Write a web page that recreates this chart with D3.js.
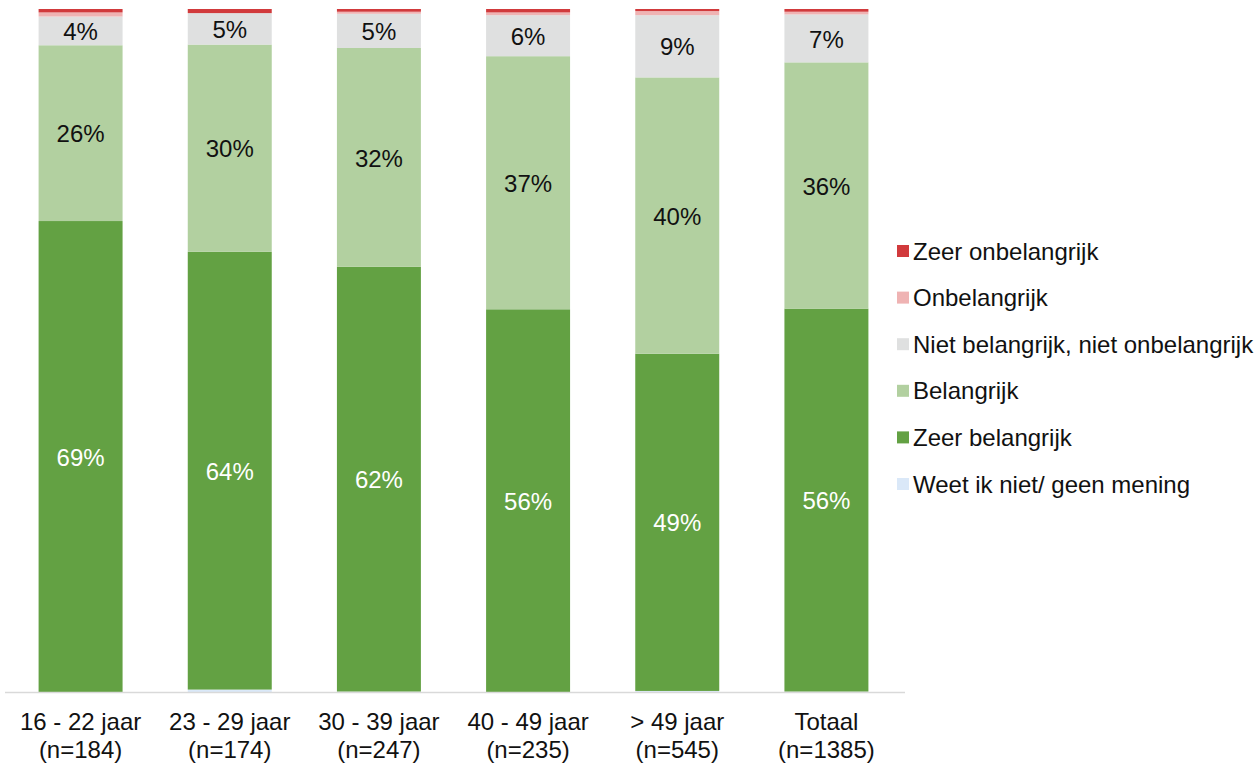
<!DOCTYPE html>
<html lang="nl">
<head>
<meta charset="UTF-8">
<title>Belang per leeftijdsgroep</title>
<script src="https://d3js.org/d3.v7.min.js"></script>
<style>
  * { margin: 0; padding: 0; box-sizing: border-box; }
  body { background: #ffffff; font-family: "Liberation Sans", Arial, sans-serif; }
  svg text { font-family: "Liberation Sans", Arial, sans-serif; }
</style>
</head>
<body>
<div id="chart"></div>
<script>
// categories (two-line labels)
const groups = ["16 - 22 jaar", "23 - 29 jaar", "30 - 39 jaar", "40 - 49 jaar", "> 49 jaar", "Totaal"];
const groupN = ["(n=184)", "(n=174)", "(n=247)", "(n=235)", "(n=545)", "(n=1385)"];

// series, bottom to top (percent)
const weetNiet       = [0.0, 0.5, 0.2, 0.0, 0.3, 0.2];
const zeerBelangrijk = [69.0, 64.0, 62.1, 56.1, 49.3, 56.0];
const belangrijk     = [25.7, 30.3, 32.0, 37.0, 40.4, 36.0];
const neutraal       = [4.2, 4.6, 5.0, 6.0, 9.1, 7.0];
const onbelangrijk   = [0.6, 0.0, 0.3, 0.4, 0.6, 0.4];
const zeerOnbel      = [0.5, 0.6, 0.4, 0.5, 0.3, 0.4];

const seriesNames = ["Weet ik niet/ geen mening", "Zeer belangrijk", "Belangrijk",
  "Niet belangrijk, niet onbelangrijk", "Onbelangrijk", "Zeer onbelangrijk"];
const seriesValues = [weetNiet, zeerBelangrijk, belangrijk, neutraal, onbelangrijk, zeerOnbel];
const seriesColors = ["#dae8f8", "#63a143", "#b2d0a0", "#dfe0e0", "#efb3b3", "#d13a3c"];
const labelled = { "Zeer belangrijk": "#ffffff", "Belangrijk": "#111111", "Niet belangrijk, niet onbelangrijk": "#111111" };

const W = 1256, H = 763;
const FS = 24;
const svg = d3.select("#chart").append("svg").attr("width", W).attr("height", H);

const x = d3.scaleBand().domain(groups).range([6, 901]).paddingInner(0.437).paddingOuter(0.2185);
const y = d3.scaleLinear().domain([0, 100]).range([693, 9]);

const rows = groups.map((g, i) => {
  const r = { group: g };
  seriesNames.forEach((s, j) => r[s] = seriesValues[j][i]);
  return r;
});
const stacked = d3.stack().keys(seriesNames)(rows);

const layers = svg.selectAll(".layer").data(stacked).join("g")
  .attr("class", "layer")
  .attr("fill", (d, i) => seriesColors[i]);

layers.selectAll("rect").data(d => d).join("rect")
  .attr("x", d => x(d.data.group))
  .attr("width", x.bandwidth())
  .attr("y", d => y(d[1]))
  .attr("height", d => y(d[0]) - y(d[1]));

// value labels
stacked.forEach(layer => {
  if (!labelled[layer.key]) return;
  svg.append("g").selectAll("text").data(layer).join("text")
    .attr("x", d => x(d.data.group) + x.bandwidth() / 2)
    .attr("y", d => (y(d[0]) + y(d[1])) / 2)
    .attr("dy", "0.38em")
    .attr("text-anchor", "middle")
    .attr("font-size", FS)
    .attr("fill", labelled[layer.key])
    .text(d => Math.round(d[1] - d[0]) + "%");
});

// axis line
svg.append("line")
  .attr("x1", 5).attr("x2", 905)
  .attr("y1", 692.5).attr("y2", 692.5)
  .attr("stroke", "#d9d9d9").attr("stroke-width", 1.5);

// category labels
const catLabels = svg.append("g").selectAll("text").data(groups).join("text")
  .attr("x", d => x(d) + x.bandwidth() / 2)
  .attr("text-anchor", "middle")
  .attr("font-size", FS)
  .attr("fill", "#111111");
catLabels.append("tspan").attr("y", 730).text(d => d);
catLabels.append("tspan").attr("y", 758)
  .attr("x", d => x(d) + x.bandwidth() / 2)
  .text((d, i) => groupN[i]);

// legend (top to bottom: reverse of stack)
const legendOrder = seriesNames.map((s, i) => ({ name: s, color: seriesColors[i] })).reverse();
const legend = svg.append("g").attr("transform", "translate(897, 251)");
legendOrder.forEach((d, i) => {
  const row = legend.append("g").attr("transform", `translate(0, ${i * 46.6})`);
  row.append("rect").attr("x", 0).attr("y", -6).attr("width", 12).attr("height", 12).attr("fill", d.color);
  row.append("text").attr("x", 16).attr("y", 0).attr("dy", "0.36em")
    .attr("font-size", FS).attr("fill", "#111111").text(d.name);
});
</script>
</body>
</html>
